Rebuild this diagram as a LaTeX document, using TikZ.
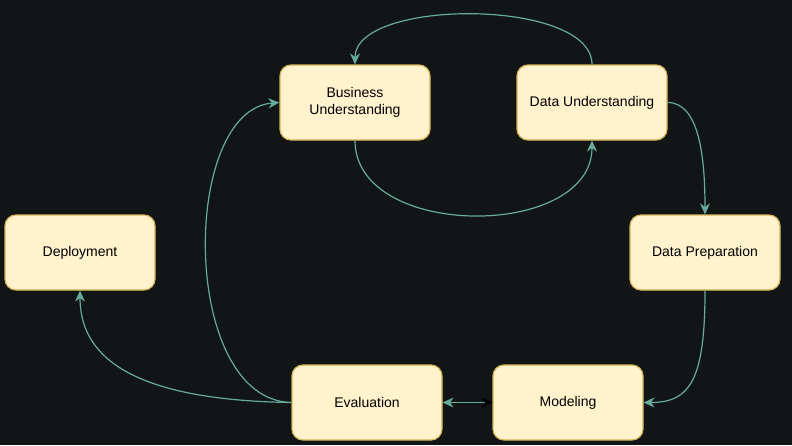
\documentclass[tikz,border=0pt]{standalone}
\usepackage{fontspec}
\setmainfont{Liberation Sans}
\usepackage{xcolor}
\usetikzlibrary{arrows.meta, positioning, calc}
\definecolor{bgdark}{HTML}{111516}
\definecolor{boxfill}{HTML}{FFF2CC}
\definecolor{boxline}{HTML}{D6B656}
\definecolor{flowteal}{HTML}{67AB9F}

\begin{document}
\begin{tikzpicture}[x=1pt, y=-1pt,
    phase/.style={rectangle, rounded corners=11pt, draw=boxline, line width=1.2pt, fill=boxfill,
        minimum width=150pt, minimum height=75pt, align=center, inner sep=2pt,
        font=\fontsize{14}{17}\selectfont},
    flow/.style={draw=flowteal, line width=1.2pt, -{Stealth[length=11pt, width=10pt]}}]
    \fill[bgdark] (0,0) rectangle (792,445);
    \useasboundingbox (0,0) rectangle (792,445);
    \node[phase] (bu) at (355,102.5) {Business\\Understanding};
    \node[phase] (du) at (592,102.5) {Data Understanding};
    \node[phase] (dp) at (705,252.5) {Data Preparation};
    \node[phase] (model) at (568,402.5) {Modeling};
    \node[phase] (eval) at (367,402.5) {Evaluation};
    \node[phase] (deploy) at (80,252.5) {Deployment};
    % cycle
    \draw[flow] (du.north) .. controls (592,-2) and (355,-2) .. (bu.north);
    \draw[flow] (bu.south) .. controls (355,240) and (592,240) .. (du.south);
    \draw[flow] (du.east) .. controls (700,102.5) and (705,160) .. (dp.north);
    \draw[flow] (dp.south) .. controls (705,380) and (690,402.5) .. (model.east);
    \draw[flow, arrows={Stealth[length=11pt, width=10pt, color=flowteal]-Stealth[length=11pt, width=10pt, color=black]}]
        (eval.east) -- (model.west);
    \draw[flow] (eval.west) .. controls (120,400) and (80,350) .. (deploy.south);
    \draw[flow] (eval.west) .. controls (180,400) and (180,110) .. (bu.west);
\end{tikzpicture}
\end{document}
